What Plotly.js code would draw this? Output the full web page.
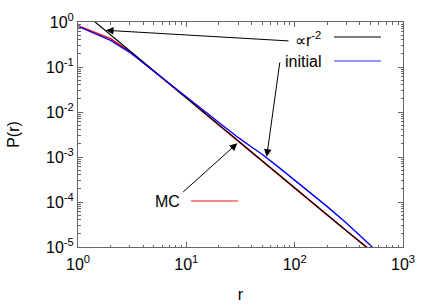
<!DOCTYPE html>
<html>
<head>
<meta charset="utf-8">
<script src="https://cdn.plot.ly/plotly-3.0.1.min.js"></script>
<style>html,body{margin:0;padding:0;background:#fff}#chart{width:436px;height:305px}</style>
</head>
<body>
<div id="chart"></div>
<script>
// power law reference  ∝ r^-2
var powR = [1, 1000];
var powP = [2.07, 2.07e-6];

// initial distribution
var initR = [1, 2, 3, 4, 5, 6, 8, 10, 15, 20, 30, 40, 50, 70, 100, 150, 200, 300, 400, 500, 600];
var initP = [0.80, 0.39, 0.212, 0.123, 0.081, 0.057, 0.0323, 0.0209, 0.0097, 0.0057, 0.00272, 0.00167, 0.00115, 0.00061, 0.000305, 0.000141, 7.9e-5, 3.42e-5, 1.83e-5, 1.09e-5, 6.9e-6];

// MC result
var mcR = [1, 2, 3, 4, 5, 6, 8, 10, 15, 20, 30, 50, 100, 200, 300, 400, 463, 500];
var mcP = [0.83, 0.425, 0.222, 0.127, 0.082, 0.057, 0.032, 0.0205, 0.0091, 0.0051, 0.00227, 0.00082, 0.000205, 5.1e-5, 2.3e-5, 1.34e-5, 1.0e-5, 8.3e-6];

var xTickVals = [1, 10, 100, 1000];
var xTickText = ['10<sup>0</sup>', '10<sup>1</sup>', '10<sup>2</sup>', '10<sup>3</sup>'];
var yTickVals = [1, 0.1, 0.01, 0.001, 0.0001, 0.00001];
var yTickText = ['10<sup>0</sup>', '10<sup>-1</sup>', '10<sup>-2</sup>', '10<sup>-3</sup>', '10<sup>-4</sup>', '10<sup>-5</sup>'];

var FONT = 'Liberation Sans, Arial, Helvetica, sans-serif';
var L = 78, R = 403, T = 22, B = 247;
function px(x) { return (x - L) / (R - L); }
function py(y) { return (B - y) / (B - T); }

var traces = [
  {x: mcR, y: mcP, mode: 'lines', line: {color: '#ff0000', width: 1.4}, showlegend: false},
  {x: powR, y: powP, mode: 'lines', line: {color: '#000000', width: 1.2}, showlegend: false},
  {x: initR, y: initP, mode: 'lines', line: {color: '#0000ff', width: 1.4}, showlegend: false}
];

var axisCommon = {
  type: 'log',
  showgrid: false,
  zeroline: false,
  showline: true,
  linecolor: '#666666',
  linewidth: 1,
  mirror: 'allticks',
  ticks: 'inside',
  ticklen: 5,
  tickwidth: 1,
  tickcolor: '#666666',
  tickmode: 'array',
  tickfont: {family: FONT, size: 16, color: '#000'},
  minor: {ticks: 'inside', ticklen: 2.5, tickwidth: 1, tickcolor: '#666666', dtick: 'D1', showgrid: false}
};

var layout = {
  width: 436, height: 305,
  margin: {l: L, r: 436 - R, t: T, b: 305 - B, pad: 0},
  paper_bgcolor: '#fff', plot_bgcolor: '#fff',
  font: {family: FONT, size: 16, color: '#000'},
  xaxis: Object.assign({}, axisCommon, {
    range: [0, 3], tickvals: xTickVals, ticktext: xTickText, ticklabelstandoff: 3,
    title: {text: 'r', font: {family: FONT, size: 16}, standoff: 16}
  }),
  yaxis: Object.assign({}, axisCommon, {
    range: [-5, 0], tickvals: yTickVals, ticktext: yTickText,
    title: {text: 'P(r)', font: {family: FONT, size: 16}, standoff: 22}
  }),
  shapes: [
    {type: 'line', xref: 'paper', yref: 'paper', x0: px(334), x1: px(381), y0: py(37), y1: py(37), line: {color: '#000', width: 1}},
    {type: 'line', xref: 'paper', yref: 'paper', x0: px(334), x1: px(381), y0: py(61), y1: py(61), line: {color: '#7070ff', width: 1.3}},
    {type: 'line', xref: 'paper', yref: 'paper', x0: px(191), x1: px(238), y0: py(201), y1: py(201), line: {color: '#ff6060', width: 1.3}}
  ],
  annotations: [
    {xref: 'paper', yref: 'paper', x: px(323), y: py(39), xanchor: 'right', yanchor: 'middle', showarrow: false, text: '∝r<sup>-2</sup>', font: {family: FONT, size: 16}},
    {xref: 'paper', yref: 'paper', x: px(323), y: py(61), xanchor: 'right', yanchor: 'middle', showarrow: false, text: 'initial', font: {family: FONT, size: 16}},
    {xref: 'paper', yref: 'paper', x: px(182), y: py(201.5), xanchor: 'right', yanchor: 'middle', showarrow: false, text: 'MC', font: {family: FONT, size: 16}},
    {xref: 'paper', yref: 'paper', x: px(106), y: py(30.3), text: '', showarrow: true, axref: 'pixel', ayref: 'pixel', ax: 184, ay: 10.7, arrowhead: 2, arrowsize: 1.5, arrowwidth: 1, arrowcolor: '#000'},
    {xref: 'paper', yref: 'paper', x: px(266.7), y: py(156.7), text: '', showarrow: true, axref: 'pixel', ayref: 'pixel', ax: 13.3, ay: -95.7, arrowhead: 2, arrowsize: 1.5, arrowwidth: 1, arrowcolor: '#000'},
    {xref: 'paper', yref: 'paper', x: px(237.3), y: py(143.3), text: '', showarrow: true, axref: 'pixel', ayref: 'pixel', ax: -55.6, ay: 50, arrowhead: 2, arrowsize: 1.5, arrowwidth: 1, arrowcolor: '#000'}
  ]
};

Plotly.newPlot('chart', traces, layout, {staticPlot: true, displayModeBar: false});
</script>
</body>
</html>
